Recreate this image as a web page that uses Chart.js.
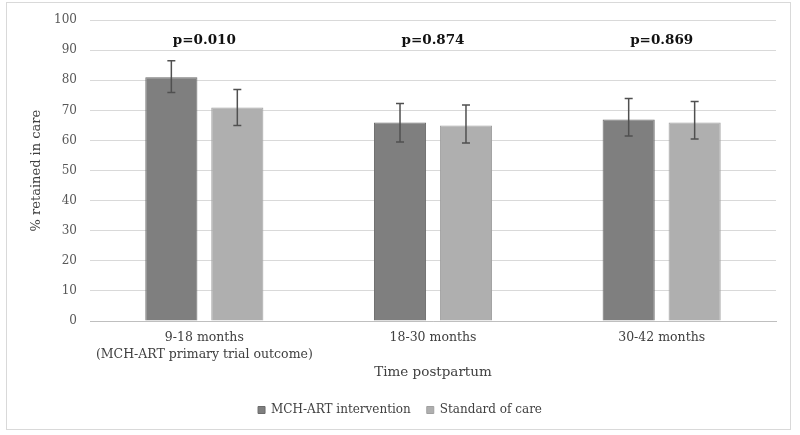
<!DOCTYPE html>
<html>
<head>
<meta charset="utf-8">
<script src="https://cdn.jsdelivr.net/npm/chart.js@4/dist/chart.umd.min.js"></script>
<style>
  html, body { margin: 0; padding: 0; background: #fff; }
  #wrap { width: 800px; height: 435px; position: relative; }
</style>
</head>
<body>
<div id="wrap"><canvas id="chart"></canvas></div>
<script>
const categories = [['9-18 months', '(MCH-ART primary trial outcome)'], '18-30 months', '30-42 months'];
const seriesNames = ['MCH-ART intervention', 'Standard of care'];
const mchValues = [81, 66, 67];
const mchLow = [76, 59.5, 61.5];
const mchHigh = [86.5, 72.3, 74];
const socValues = [71, 65, 66];
const socLow = [65, 59.2, 60.5];
const socHigh = [77, 71.8, 73];
const pValues = ['p=0.010', 'p=0.874', 'p=0.869'];

const serif = 'DejaVu Serif';

// frame round the whole picture
const framePlugin = {
  id: 'frame',
  beforeDraw(chart) {
    const c = chart.ctx;
    c.save();
    c.fillStyle = '#fff';
    c.fillRect(0, 0, chart.width, chart.height);
    c.strokeStyle = '#d9d9d9';
    c.lineWidth = 1;
    c.strokeRect(6.5, 2.5, 784, 427);
    c.restore();
  }
};

// error bars and p-value labels
const extrasPlugin = {
  id: 'extras',
  afterDatasetsDraw(chart) {
    const c = chart.ctx;
    const y = chart.scales.y;
    const x = chart.scales.x;
    c.save();
    chart.data.datasets.forEach((ds, d) => {
      const meta = chart.getDatasetMeta(d);
      meta.data.forEach((bar, i) => {
        const top = y.getPixelForValue(ds.errHigh[i]);
        const bot = y.getPixelForValue(ds.errLow[i]);
        c.strokeStyle = '#505050';
        c.lineWidth = 1.5;
        c.beginPath();
        c.moveTo(bar.x, top); c.lineTo(bar.x, bot);
        c.moveTo(bar.x - 4, top); c.lineTo(bar.x + 4, top);
        c.moveTo(bar.x - 4, bot); c.lineTo(bar.x + 4, bot);
        c.stroke();
      });
    });
    c.fillStyle = '#111';
    c.font = 'bold 13.5px "' + serif + '"';
    c.textAlign = 'center';
    c.textBaseline = 'middle';
    pValues.forEach((p, i) => {
      c.fillText(p, x.getPixelForValue(i), y.getPixelForValue(93.3));
    });
    c.restore();
  }
};

new Chart(document.getElementById('chart'), {
  type: 'bar',
  data: {
    labels: categories,
    datasets: [
      {
        label: seriesNames[0],
        data: mchValues,
        errLow: mchLow,
        errHigh: mchHigh,
        backgroundColor: '#7f7f7f',
        borderColor: '#6b6b6b',
        borderWidth: 1
      },
      {
        label: seriesNames[1],
        data: socValues,
        errLow: socLow,
        errHigh: socHigh,
        backgroundColor: '#afafaf',
        borderColor: '#a0a0a0',
        borderWidth: 1
      }
    ]
  },
  options: {
    responsive: true,
    maintainAspectRatio: false,
    animation: false,
    categoryPercentage: 0.577,
    barPercentage: 0.79,
    layout: { padding: { left: 24, right: 24, top: 19, bottom: 9 } },
    plugins: {
      tooltip: { enabled: false },
      legend: {
        position: 'bottom',
        labels: {
          boxWidth: 7,
          boxHeight: 7,
          padding: 16,
          color: '#404040',
          font: { family: serif, size: 12 }
        }
      }
    },
    scales: {
      x: {
        grid: { display: false, drawTicks: false },
        border: { display: true, color: '#bfbfbf', width: 1 },
        ticks: {
          padding: 8,
          color: '#404040',
          font: { family: serif, size: 12.5, lineHeight: 1.35 },
          maxRotation: 0
        },
        title: {
          display: true,
          text: 'Time postpartum',
          color: '#404040',
          font: { family: serif, size: 13.5 },
          padding: { top: 0, bottom: 7 }
        },
        afterFit(scale) { scale.height = 67; }
      },
      y: {
        min: 0,
        max: 100,
        grid: { color: '#d9d9d9', lineWidth: 1, drawTicks: false },
        border: { display: false },
        ticks: {
          stepSize: 10,
          padding: 13,
          color: '#595959',
          font: { family: serif, size: 12 }
        },
        title: {
          display: true,
          text: '% retained in care',
          color: '#404040',
          font: { family: serif, size: 13 },
          padding: { top: 5, bottom: 0 }
        },
        afterFit(scale) { scale.width = 66; }
      }
    }
  },
  plugins: [framePlugin, extrasPlugin]
});
</script>
</body>
</html>
